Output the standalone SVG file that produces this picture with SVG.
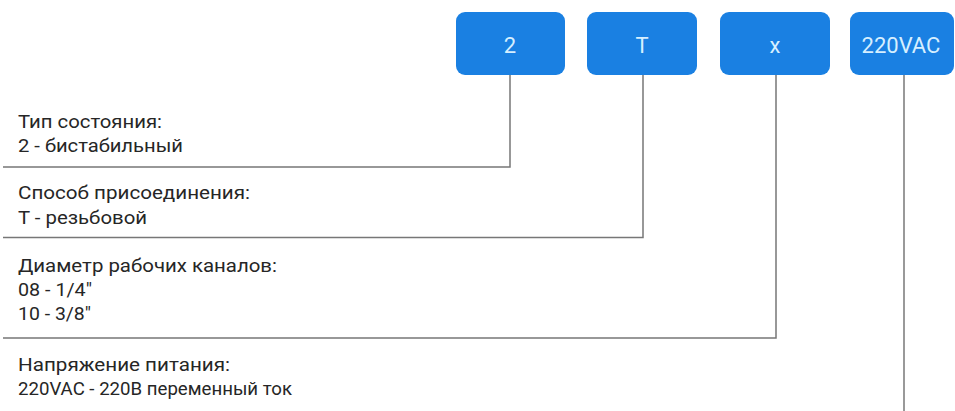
<svg xmlns="http://www.w3.org/2000/svg" width="955" height="411" viewBox="0 0 955 411">
<style>
.box{fill:#1a80e2;}
.bt{font-family:Roboto,"Liberation Sans",sans-serif;font-size:22px;fill:#d6efff;text-anchor:middle;}
.lt{font-family:Roboto,"Liberation Sans",sans-serif;font-size:18px;fill:#262626;}
.ln{fill:none;stroke:#777;stroke-width:1.5;}
</style>
<rect width="955" height="411" fill="#fff"/>
<g id="node-2"><rect class="box" x="456" y="12" width="109" height="63" rx="9"/><text class="bt" x="510" y="53">2</text></g>
<g id="node-T"><rect class="box" x="587" y="12" width="110" height="63" rx="9"/><text class="bt" x="642" y="53">T</text></g>
<g id="node-x"><rect class="box" x="720" y="12" width="110" height="63" rx="9"/><text class="bt" x="775" y="53">x</text></g>
<g id="node-220VAC"><rect class="box" x="850" y="12" width="104" height="63" rx="9"/><text class="bt" x="901" y="53">220VAC</text></g>
<g id="label-1"><text class="lt" x="18" y="128" textLength="144" lengthAdjust="spacingAndGlyphs">Тип состояния:</text><text class="lt" x="18" y="152" textLength="165" lengthAdjust="spacingAndGlyphs">2 - бистабильный</text></g>
<g id="label-2"><text class="lt" x="18" y="199" textLength="232" lengthAdjust="spacingAndGlyphs">Способ присоединения:</text><text class="lt" x="18" y="224" textLength="129" lengthAdjust="spacingAndGlyphs">Т - резьбовой</text></g>
<g id="label-3"><text class="lt" x="18" y="272" textLength="259" lengthAdjust="spacingAndGlyphs">Диаметр рабочих каналов:</text><text class="lt" x="18" y="296" textLength="74" lengthAdjust="spacingAndGlyphs">08 - 1/4"</text><text class="lt" x="18" y="320" textLength="73" lengthAdjust="spacingAndGlyphs">10 - 3/8"</text></g>
<g id="label-4"><text class="lt" x="18" y="371" textLength="212" lengthAdjust="spacingAndGlyphs">Напряжение питания:</text><text class="lt" x="18" y="395" textLength="274" lengthAdjust="spacingAndGlyphs">220VAC - 220В переменный ток</text></g>
<g id="connectors">
<polyline class="ln" points="510,75 510,167 3,167"/>
<polyline class="ln" points="643,75 643,237.5 3,237.5"/>
<polyline class="ln" points="776,75 776,338 3,338"/>
<polyline class="ln" points="904,75 904,411"/>
</g>
</svg>
